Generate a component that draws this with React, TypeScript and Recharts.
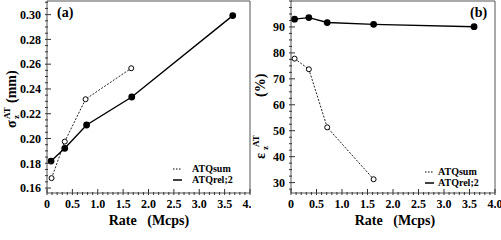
import React from 'react';
import { LineChart, Line, XAxis, YAxis, ReferenceArea, Legend } from 'recharts';

const FONT = "'Liberation Serif', 'DejaVu Serif', 'Times New Roman', serif";

// panel (a): sigma_z^AT (mm) vs rate
const rateSumA = [0.09, 0.35, 0.76, 1.66];
const sigmaSum = [0.168, 0.1975, 0.2317, 0.2567];
const rateRelA = [0.08, 0.35, 0.78, 1.67, 3.66];
const sigmaRel = [0.1818, 0.1921, 0.2109, 0.2335, 0.2992];

// panel (b): epsilon_z^AT (%) vs rate
const rateSumB = [0.07, 0.35, 0.71, 1.62];
const effSum = [77.8, 73.7, 51.3, 31.3];
const rateRelB = [0.07, 0.35, 0.71, 1.62, 3.59];
const effRel = [93.0, 93.6, 91.7, 91.0, 90.1];

const xMajor = [0, 0.5, 1, 1.5, 2, 2.5, 3, 3.5, 4];
const xLabels = ['0', '0.5', '1.0', '1.5', '2.0', '2.5', '3.0', '3.5', '4.0'];
const yMajorA = [0.16, 0.18, 0.2, 0.22, 0.24, 0.26, 0.28, 0.3];
const yLabelsA = ['0.16', '0.18', '0.20', '0.22', '0.24', '0.26', '0.28', '0.30'];
const yMajorB = [30, 40, 50, 60, 70, 80, 90];
const yLabelsB = ['30', '40', '50', '60', '70', '80', '90'];

const domainX: [number, number] = [0, 4];
const domainA: [number, number] = [0.156, 0.311];
const domainB: [number, number] = [26, 100];

const seriesNames = ['ATQsum', 'ATQrel;2'];

const toPoints = (xs: number[], ys: number[]) => xs.map((x, i) => ({ x, y: ys[i] }));

// major ticks plus evenly spaced minor ticks inside the domain
function withMinor(major: number[], sub: number, lo: number, hi: number) {
  const step = (major[1] - major[0]) / sub;
  const out: number[] = [];
  let v = major[0];
  while (v - step >= lo - 1e-9) v -= step;
  for (; v <= hi + 1e-9; v += step) out.push(Number(v.toFixed(5)));
  return out;
}

const XTick = (props: any) => {
  const { x, y, payload } = props;
  const i = xMajor.findIndex((m) => Math.abs(m - payload.value) < 1e-6);
  const major = i >= 0;
  return (
    <g>
      <line x1={x} x2={x} y1={y} y2={y - (major ? 6 : 3)} stroke="#333" strokeWidth={1} />
      {major && (
        <text x={x} y={y + 13} textAnchor="middle" style={{ fontFamily: FONT }} fontWeight="bold" fontSize={12} fill="#000">
          {xLabels[i]}
        </text>
      )}
    </g>
  );
};

const YTick = (props: any) => {
  const { x, y, payload, majors, labels } = props;
  const i = majors.findIndex((m: number) => Math.abs(m - payload.value) < 1e-6);
  const major = i >= 0;
  return (
    <g>
      <line x1={x} x2={x + (major ? 6 : 3)} y1={y} y2={y} stroke="#333" strokeWidth={1} />
      {major && (
        <text x={x - 4} y={y + 4.3} textAnchor="end" style={{ fontFamily: FONT }} fontWeight="bold" fontSize={12} fill="#000">
          {labels[i]}
        </text>
      )}
    </g>
  );
};

const LegendBox = ({ payload, gap }: any) => {
  const items = [...(payload || [])].sort(
    (a: any, b: any) => seriesNames.indexOf(a.value) - seriesNames.indexOf(b.value));
  return (
    <div style={{ fontFamily: FONT, fontWeight: 'bold', fontSize: 10, lineHeight: '10.5px', color: '#000' }}>
      {items.map((e: any) => (
        <div key={e.value} style={{ display: 'flex', alignItems: 'center', height: 10.5 }}>
          <svg width={9} height={4} style={{ marginRight: gap }}>
            <line x1={0} x2={9} y1={2} y2={2} stroke="#000" strokeWidth={e.value === seriesNames[0] ? 1 : 1.5}
              strokeDasharray={e.value === seriesNames[0] ? '1.5 1.5' : undefined} />
          </svg>
          <span>{e.value}</span>
        </div>
      ))}
    </div>
  );
};

const textStyle = { style: { fontFamily: FONT, whiteSpace: 'pre' as const }, fontWeight: 'bold' as const, fill: '#000' };

const PanelA = () => (
  <LineChart width={251} height={240} margin={{ top: 1, right: 1, bottom: 0, left: 0 }}>
    <XAxis type="number" dataKey="x" domain={domainX} ticks={withMinor(xMajor, 5, 0, 4)} interval={0}
      allowDataOverflow axisLine={false} tickSize={0} tickLine={false} tick={<XTick />} height={47}
      label={{ content: () => (
        <text x={149} y={225} textAnchor="middle" fontSize={14} {...textStyle}>
          {'Rate   (Mcps)'}
        </text>
      ) }} />
    <YAxis type="number" domain={domainA} ticks={withMinor(yMajorA, 4, domainA[0], domainA[1])} interval={0}
      allowDataOverflow axisLine={false} tickSize={0} tickLine={false} width={47}
      tick={<YTick majors={yMajorA} labels={yLabelsA} />}
      label={{ content: () => (
        <text transform="translate(16,128) rotate(-90)" fontSize={14} {...textStyle}>
          <tspan x={0} y={0}>σ</tspan>
          <tspan x={9} y={-6} fontSize={9}>AT</tspan>
          <tspan x={9} y={3} fontSize={9}>z</tspan>
          <tspan x={25} y={0}>(mm)</tspan>
        </text>
      ) }} />
    <ReferenceArea x1={domainX[0]} x2={domainX[1]} y1={domainA[0]} y2={domainA[1]} fill="none"
      stroke="#555" strokeWidth={1}
      label={{ content: () => (<text x={57} y={17} fontSize={14} {...textStyle}>(a)</text>) }} />
    <Line data={toPoints(rateSumA, sigmaSum)} dataKey="y" name={seriesNames[0]} stroke="#222" strokeWidth={1}
      strokeDasharray="2 1.5" dot={{ r: 2.5, fill: '#fff', stroke: '#000', strokeWidth: 1, strokeDasharray: '' }}
      isAnimationActive={false} />
    <Line data={toPoints(rateRelA, sigmaRel)} dataKey="y" name={seriesNames[1]} stroke="#000" strokeWidth={1.4}
      dot={{ r: 2.7, fill: '#000', stroke: '#000' }} isAnimationActive={false} />
    <Legend layout="vertical" align="center" verticalAlign="middle"
      wrapperStyle={{ left: 173, top: 164, width: 70, height: 22 }}
      content={(p: any) => <LegendBox payload={p.payload} gap={10} />} />
  </LineChart>
);

const PanelB = () => (
  <LineChart width={256} height={240} margin={{ top: 1, right: 12, bottom: 0, left: 0 }}>
    <XAxis type="number" dataKey="x" domain={domainX} ticks={withMinor(xMajor, 5, 0, 4)} interval={0}
      allowDataOverflow axisLine={false} tickSize={0} tickLine={false} tick={<XTick />} height={47}
      label={{ content: () => (
        <text x={144} y={225} textAnchor="middle" fontSize={14} {...textStyle}>
          {'Rate   (Mcps)'}
        </text>
      ) }} />
    <YAxis type="number" domain={domainB} ticks={withMinor(yMajorB, 4, domainB[0], domainB[1])} interval={0}
      allowDataOverflow axisLine={false} tickSize={0} tickLine={false} width={40}
      tick={<YTick majors={yMajorB} labels={yLabelsB} />}
      label={{ content: () => (
        <text transform="translate(14,159) rotate(-90)" fontSize={14} {...textStyle}>
          <tspan x={0} y={0}>ε</tspan>
          <tspan x={12} y={-6} fontSize={9}>AT</tspan>
          <tspan x={9} y={3} fontSize={9}>z</tspan>
          <tspan x={62} y={0}>(%)</tspan>
        </text>
      ) }} />
    <ReferenceArea x1={domainX[0]} x2={domainX[1]} y1={domainB[0]} y2={domainB[1]} fill="none"
      stroke="#555" strokeWidth={1}
      label={{ content: () => (<text x={219} y={17} fontSize={14} {...textStyle}>(b)</text>) }} />
    <Line data={toPoints(rateSumB, effSum)} dataKey="y" name={seriesNames[0]} stroke="#222" strokeWidth={1}
      strokeDasharray="2 1.5" dot={{ r: 2.5, fill: '#fff', stroke: '#000', strokeWidth: 1, strokeDasharray: '' }}
      isAnimationActive={false} />
    <Line data={toPoints(rateRelB, effRel)} dataKey="y" name={seriesNames[1]} stroke="#000" strokeWidth={1.4}
      dot={{ r: 2.7, fill: '#000', stroke: '#000' }} isAnimationActive={false} />
    <Legend layout="vertical" align="center" verticalAlign="middle"
      wrapperStyle={{ left: 174, top: 167, width: 70, height: 22 }}
      content={(p: any) => <LegendBox payload={p.payload} gap={4} />} />
  </LineChart>
);

export default function App() {
  return (
    <div style={{ position: 'absolute', left: 0, top: 0, width: 501, height: 240, background: '#fff', overflow: 'hidden' }}>
      <div style={{ position: 'absolute', left: 0, top: 0 }}>
        <PanelA />
      </div>
      <div style={{ position: 'absolute', left: 251, top: 0 }}>
        <PanelB />
      </div>
    </div>
  );
}
